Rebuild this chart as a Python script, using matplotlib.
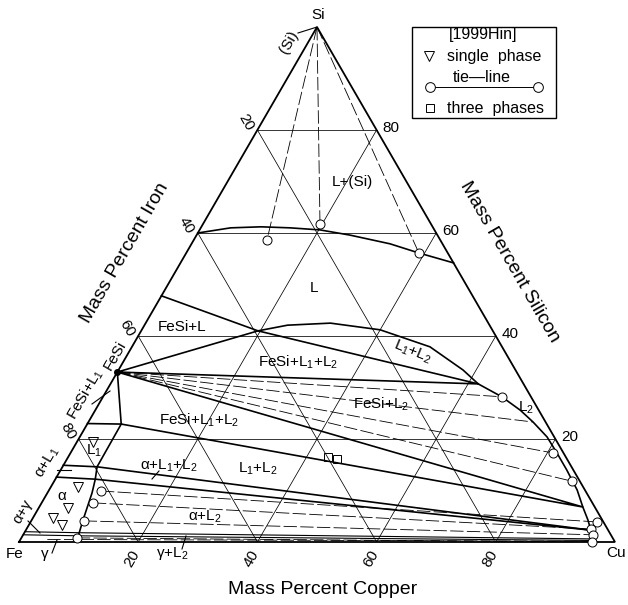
import numpy as np
import matplotlib
matplotlib.use("Agg")
import matplotlib.pyplot as plt
from matplotlib.patches import Rectangle

plt.rcParams['font.family'] = ['Liberation Sans', 'DejaVu Sans']
plt.rcParams['mathtext.fontset'] = 'custom'
plt.rcParams['mathtext.rm'] = 'Liberation Sans'
plt.rcParams['mathtext.it'] = 'Liberation Sans'
plt.rcParams['mathtext.bf'] = 'Liberation Sans'

# ---------------- data: compositions as (wt.% Cu, wt.% Si) ----------------
grid_values = [20, 40, 60, 80]
cu_tick_labels = ["20", "40", "60", "80"]
si_tick_labels = ["20", "40", "60", "80"]
fe_tick_labels = ["20", "40", "60", "80"]

si_liquidus = [(0, 60.0), (5, 61.0), (10, 61.2), (15, 61.0), (20.2, 60.6),
               (25.7, 59.6), (33.3, 57.9), (39.1, 56.1), (45.8, 54.2)]
fesi_liquidus = [(0, 47.8), (19.6, 41.0)]
miscibility_dome = [(19.6, 41.0), (24, 42.1), (31, 42.5), (40, 41.2),
                    (50, 37.9), (57.8, 33.4), (61.7, 30.7)]
l2_liquidus = [(61.7, 30.7), (66.9, 28.2), (71.3, 25.6), (74.6, 23.3),
               (78.4, 20.4), (81.6, 17.3), (84.9, 14.0), (88.6, 10.1),
               (91.2, 6.8), (93.3, 4.3), (94.8, 2.3), (95.8, 1.0), (96.1, 0)]
tri_fesi_l1_l2_upper = [(0, 33.0), (19.6, 41.0), (61.7, 30.7), (0, 33.0)]
tri_fesi_l1_l2_lower = [(0, 33.0), (5.7, 22.9), (91.2, 6.8), (0, 33.0)]
l1_top = [(0, 23.0), (5.7, 22.9)]
l1_alpha_boundary = [(5.7, 22.9), (5.8, 14.6), (6.7, 12.2), (7.5, 9.5),
                     (7.9, 7.6), (8.6, 4.3), (9.4, 1.0), (9.7, 0)]
l1_bottom = [(0, 14.9), (5.8, 14.6), (94.8, 2.3)]
alpha_top = [(0, 12.6), (6.7, 12.2), (94.8, 2.3)]
alpha_bottom = [(0, 2.0), (9.3, 1.8), (95.8, 0.6)]
gamma_top = [(0, 1.4), (9.6, 1.2), (96.0, 0.3)]

si_tie_ends = [(12.3, 58.6), (19.65, 61.7), (39.05, 56.1)]
fesi_point = (0, 33.0)
fesi_tie_ends = [(66.9, 28.2), (74.6, 23.3), (80.9, 17.3), (86.9, 11.8)]
fesi_tie_circles = [(66.9, 28.2), (80.9, 17.3), (86.9, 11.8)]
alpha_tie_starts = [(8.8, 9.9), (8.6, 7.6), (8.8, 4.1), (9.3, 0.8)]
alpha_tie_ends = [(95.0, 3.9), (94.7, 2.5), (95.6, 1.4), (96.1, 0.0)]
gamma_tie_starts = [(4.5, 0.5)]
gamma_tie_ends = [(96.0, 0.15)]

single_phase_pts = [(2.7, 19.4), (4.6, 10.7), (4.9, 6.6), (3.35, 4.7), (5.55, 3.3)]
three_phase_pts = [(43.6, 16.5), (45.3, 16.1)]

# ---------------- helpers ----------------
S3 = np.sqrt(3) / 2
W, H = 628, 605


def tern(pts):
    a = np.asarray(pts, float).reshape(-1, 2)
    return a[:, 0] + a[:, 1] / 2.0, a[:, 1] * S3


fig = plt.figure(figsize=(W / 100, H / 100), dpi=100)
ax = fig.add_axes([19 / W, 63 / H, 596 / W, 515 / H])
ax.set_xlim(0, 100)
ax.set_ylim(0, 100 * S3)
ax.axis('off')

# grid
for v in grid_values:
    for seg in ([(0, v), (100 - v, v)], [(v, 0), (v, 100 - v)], [(100 - v, 0), (0, 100 - v)]):
        x, y = tern(seg)
        ax.plot(x, y, color='black', lw=0.55, zorder=1)

# triangle frame
x, y = tern([(0, 0), (100, 0), (0, 100), (0, 0)])
ax.plot(x, y, color='black', lw=1.3, zorder=3, clip_on=False, solid_joinstyle='miter')

# phase boundaries
for curve in (si_liquidus, fesi_liquidus, miscibility_dome, l2_liquidus,
              tri_fesi_l1_l2_upper, tri_fesi_l1_l2_lower, l1_top,
              l1_alpha_boundary, l1_bottom, alpha_top):
    x, y = tern(curve)
    ax.plot(x, y, color='black', lw=1.2, zorder=3, solid_joinstyle='round')
for curve in (alpha_bottom, gamma_top):
    x, y = tern(curve)
    ax.plot(x, y, color='black', lw=0.8, zorder=3)

dash = (0, (16, 4))
# tie lines
for end in si_tie_ends:
    x, y = tern([(0, 100), end])
    ax.plot(x, y, color='black', lw=0.6, ls=dash, zorder=2)
for end in fesi_tie_ends:
    x, y = tern([fesi_point, end])
    ax.plot(x, y, color='black', lw=0.6, ls=dash, zorder=2)
for a, b in zip(alpha_tie_starts, alpha_tie_ends):
    x, y = tern([a, b])
    ax.plot(x, y, color='black', lw=0.6, ls=dash, zorder=2)
for a, b in zip(gamma_tie_starts, gamma_tie_ends):
    x, y = tern([a, b])
    ax.plot(x, y, color='black', lw=0.6, ls=dash, zorder=2)

# experimental markers
circ = dict(marker='o', ms=6.5, mfc='white', mec='black', mew=0.7, ls='none', zorder=5, clip_on=False)
x, y = tern(si_tie_ends); ax.plot(x, y, **circ)
x, y = tern(fesi_tie_circles); ax.plot(x, y, **circ)
x, y = tern(alpha_tie_starts); ax.plot(x, y, **circ)
x, y = tern(alpha_tie_ends); ax.plot(x, y, **circ)
x, y = tern(single_phase_pts)
ax.plot(x, y, marker='v', ms=7, mfc='none', mec='black', mew=0.7, ls='none', zorder=5)
x, y = tern(three_phase_pts)
ax.plot(x, y, marker='s', ms=5.5, mfc='none', mec='black', mew=0.7, ls='none', zorder=5)
x, y = tern([fesi_point])
ax.plot(x, y, marker='o', ms=4, color='black', ls='none', zorder=6, clip_on=False)

# tick labels
for v, lab in zip(grid_values, cu_tick_labels):
    x, y = tern([(v, 0)])
    ax.annotate(lab, (x[0], y[0]), xytext=(-6, -17), textcoords='offset pixels',
                rotation=60, ha='center', va='center', fontsize=11, annotation_clip=False)
for v, lab in zip(grid_values, si_tick_labels):
    x, y = tern([(100 - v, v)])
    ax.annotate(lab, (x[0], y[0]), xytext=(6, 2), textcoords='offset pixels',
                ha='left', va='center', fontsize=11, annotation_clip=False)
for v, lab in zip(grid_values, fe_tick_labels):
    x, y = tern([(0, 100 - v)])
    ax.annotate(lab, (x[0], y[0]), xytext=(-11, 8), textcoords='offset pixels',
                rotation=-60, ha='center', va='center', fontsize=11, annotation_clip=False)

# ---------------- overlay in pixel coordinates for texts ----------------
ov = fig.add_axes([0, 0, 1, 1])
ov.set_xlim(0, W)
ov.set_ylim(H, 0)
ov.axis('off')


def t(px, py, s, fs=11, rot=0, ha='center'):
    ov.text(px, py, s, fontsize=fs, rotation=rot, ha=ha, va='center',
            rotation_mode='anchor')


def lead(x0, y0, x1, y1):
    ov.plot([x0, x1], [y0, y1], color='black', lw=0.8)


# vertices
t(15, 554, "Fe")
t(616, 553, "Cu")
t(318, 15, "Si")
# axis titles
t(323, 589, "Mass Percent Copper", fs=14)
t(125, 253, "Mass Percent Iron", fs=14, rot=60)
t(510, 262, "Mass Percent Silicon", fs=14, rot=-60)

# region labels
t(352, 182, "L+(Si)")
t(314, 288, "L")
t(182, 327, "FeSi+L")
t(298, 362, "FeSi+L$_1$+L$_2$")
t(413, 352, "L$_1$+L$_2$", rot=-22)
t(381, 404, "FeSi+L$_2$")
t(526, 408, "L$_2$")
t(199, 420, "FeSi+L$_1$+L$_2$")
t(94, 451, "L$_1$")
t(169, 466, "α+L$_1$+L$_2$")
t(258, 469, "L$_1$+L$_2$")
t(205, 517, "α+L$_2$")
t(62, 496, "α")
t(45, 554, "γ")
t(172, 554, "γ+L$_2$")
t(47, 462, "α+L$_1$", rot=60)
t(23, 512, "α+γ", rot=60)
t(86, 394, "FeSi+L$_1$", rot=60)
t(115, 355, "FeSi", rot=60)
t(289, 42, "(Si)", rot=60)

# leader lines
lead(298, 33, 317, 27)
lead(92, 404, 110, 391)
lead(57, 470, 71, 470)
lead(28, 521, 40, 533)
lead(52, 553, 57, 540)
lead(182, 549, 186, 536)
lead(152, 479, 159, 471)

# legend
ov.add_patch(Rectangle((412, 27), 144, 91, fill=False, ec='black', lw=1.0))
t(483, 34, "[1999Hin]", fs=11.5)
ov.plot([429], [56], marker='v', ms=7, mfc='none', mec='black', mew=0.7)
t(447, 57, "single  phase", fs=11.5, ha='left')
ov.plot([434, 534], [87, 87], color='black', lw=0.7)
ov.plot([430, 538], [87, 87], marker='o', ms=7, mfc='white', mec='black', mew=0.7, ls='none')
t(482, 78, "tie\u2014line", fs=11.5)
ov.plot([430], [108], marker='s', ms=5.5, mfc='none', mec='black', mew=0.7)
t(447, 108, "three  phases", fs=11.5, ha='left')

fig.savefig("out.png", dpi=100)
